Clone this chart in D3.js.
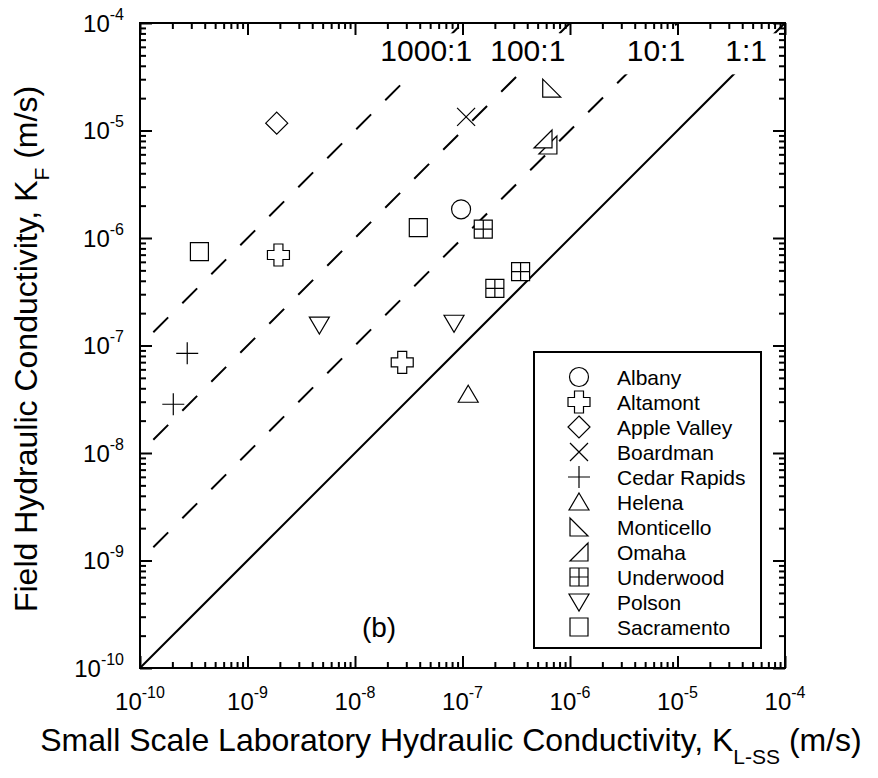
<!DOCTYPE html>
<html lang="en">
<head>
<meta charset="UTF-8">
<title>Field vs Small Scale Laboratory Hydraulic Conductivity</title>
<script src="https://d3js.org/d3.v7.min.js"></script>
<style>
  body { margin: 0; background: #fff; }
  svg text { font-family: "Liberation Sans", Arial, Helvetica, sans-serif; fill: #000; font-weight: normal; }
</style>
</head>
<body>
<svg width="878" height="778"></svg>
<script>
// sites shown in the legend, in legend order
const siteNames = ["Albany", "Altamont", "Apple Valley", "Boardman", "Cedar Rapids", "Helena",
                   "Monticello", "Omaha", "Underwood", "Polson", "Sacramento"];

// one entry per plotted point (m/s)
const pointSite = ["Albany", "Altamont", "Altamont", "Apple Valley", "Boardman",
                   "Cedar Rapids", "Cedar Rapids", "Helena", "Monticello", "Omaha", "Omaha",
                   "Underwood", "Underwood", "Underwood", "Polson", "Polson",
                   "Sacramento", "Sacramento"];
const labK   = [9.7e-8, 1.94e-9, 2.75e-8, 1.87e-9, 1.08e-7,
                2.75e-10, 2.04e-10, 1.13e-7, 6.76e-7, 6.23e-7, 5.61e-7,
                1.56e-7, 3.47e-7, 2.0e-7, 4.66e-9, 8.34e-8,
                3.57e-10, 3.88e-8];
const fieldK = [1.85e-6, 6.95e-7, 6.98e-8, 1.17e-5, 1.34e-5,
                8.45e-8, 2.84e-8, 3.52e-8, 2.48e-5, 7.33e-6, 8.34e-6,
                1.21e-6, 4.86e-7, 3.4e-7, 1.55e-7, 1.61e-7,
                7.46e-7, 1.25e-6];

// KF : KL-SS reference lines
const ratios      = [1, 10, 100, 1000];
const ratioLabels = ["1:1", "10:1", "100:1", "1000:1"];
const ratioStart  = [1e-10, 1.33e-10, 1.33e-10, 1.33e-10];
const ratioLabelX = [4.35e-5, 6.3e-6, 4.05e-7, 4.6e-8];
const ratioLabelY = 4.4e-5;

const decades = [-10, -9, -8, -7, -6, -5, -4];

const svg = d3.select("svg");
const x = d3.scaleLog().domain([1e-10, 1e-4]).range([140, 785]);
const y = d3.scaleLog().domain([1e-10, 1e-4]).range([668, 23]);

const majors = decades.map(d => +("1e" + d));
const minors = [];
decades.slice(0, -1).forEach(d => {
    for (let k = 2; k <= 9; k++) minors.push(+(k + "e" + d));
});

// reference lines
ratios.forEach((r, i) => {
    const x0 = ratioStart[i], x1 = 1e-4 / r;
    svg.append("line")
        .attr("x1", x(x0)).attr("y1", y(x0 * r))
        .attr("x2", x(x1)).attr("y2", y(1e-4))
        .attr("stroke", "black")
        .attr("stroke-width", 2)
        .attr("stroke-dasharray", r === 1 ? null : "21,20");
});

// ratio labels on a white strip
const labG = svg.append("g");
const labRect = labG.append("rect").attr("fill", "white");
ratioLabels.forEach((t, i) => {
    labG.append("text")
        .attr("x", x(ratioLabelX[i]))
        .attr("y", y(ratioLabelY))
        .attr("text-anchor", "middle")
        .attr("font-size", 30)
        .text(t);
});
const bb = labG.node().getBBox();
labRect.attr("x", bb.x - 6).attr("y", bb.y - 1)
    .attr("width", x(1e-4) - 3 - (bb.x - 6)).attr("height", bb.height + 8);

// axes with inward ticks
function ticks(gen, tr, vals, size) {
    const g = svg.append("g").attr("transform", tr)
        .call(gen.tickValues(vals).tickSize(-size).tickSizeOuter(0).tickFormat(""));
    g.select(".domain").remove();
    g.selectAll("line").attr("stroke-width", 2);
}
const axisGens = [
    [() => d3.axisBottom(x), "translate(0,668)"],
    [() => d3.axisTop(x), "translate(0,23)"],
    [() => d3.axisLeft(y), "translate(140,0)"],
    [() => d3.axisRight(y), "translate(785,0)"]
];
axisGens.forEach(([gen, tr]) => {
    ticks(gen(), tr, majors, 12);
    ticks(gen(), tr, minors, 6);
});

svg.append("rect")
    .attr("x", 140).attr("y", 23).attr("width", 645).attr("height", 645)
    .attr("fill", "none").attr("stroke", "black").attr("stroke-width", 2);

// tick labels
decades.forEach(d => {
    const v = +("1e" + d);
    const tx = svg.append("text")
        .attr("x", x(v)).attr("y", 710)
        .attr("text-anchor", "middle").attr("font-size", 24);
    tx.append("tspan").text("10");
    tx.append("tspan").attr("dy", -12).attr("font-size", 16).text(d);

    const ty = svg.append("text")
        .attr("x", 124).attr("y", y(v) + 8.5)
        .attr("text-anchor", "end").attr("font-size", 24);
    ty.append("tspan").text("10");
    ty.append("tspan").attr("dy", -12).attr("font-size", 16).text(d);
});

// axis titles
const xt = svg.append("text")
    .attr("x", 451).attr("y", 751)
    .attr("text-anchor", "middle").attr("font-size", 32);
xt.append("tspan").text("Small Scale Laboratory Hydraulic Conductivity, K");
xt.append("tspan").attr("dy", 13).attr("font-size", 21).text("L-SS");
xt.append("tspan").attr("dy", -13).text(" (m/s)");

const yt = svg.append("text")
    .attr("transform", "translate(37,349) rotate(-90)")
    .attr("text-anchor", "middle").attr("font-size", 32);
yt.append("tspan").text("Field Hydraulic Conductivity, K");
yt.append("tspan").attr("dy", 12).attr("font-size", 21).text("F");
yt.append("tspan").attr("dy", -12).text(" (m/s)");

// marker shapes
const shapes = {
    "Albany": "M9.5,0A9.5,9.5 0 1,1 -9.5,0A9.5,9.5 0 1,1 9.5,0Z",
    "Altamont": "M-4.5,-11H4.5V-4.5H11V4.5H4.5V11H-4.5V4.5H-11V-4.5H-4.5Z",
    "Apple Valley": "M0,-11L11,0L0,11L-11,0Z",
    "Boardman": "M-9,-9L9,9M-9,9L9,-9",
    "Cedar Rapids": "M-11,0H11M0,-11V11",
    "Helena": "M0,-9L10,8H-10Z",
    "Monticello": "M-9,-9V9H9Z",
    "Omaha": "M9,-9V9H-9Z",
    "Underwood": "M-9,-9H9V9H-9ZM0,-9V9M-9,0H9",
    "Polson": "M-10,-8H10L0,9Z",
    "Sacramento": "M-9,-9H9V9H-9Z"
};

svg.append("g").selectAll("path")
    .data(pointSite.map((s, i) => ({site: s, lab: labK[i], field: fieldK[i]})))
    .join("path")
    .attr("transform", d => `translate(${x(d.lab)},${y(d.field)})`)
    .attr("d", d => shapes[d.site])
    .attr("fill", "white")
    .attr("stroke", "black")
    .attr("stroke-width", 1.2);

// (b) panel tag
svg.append("text")
    .attr("x", 379).attr("y", 637)
    .attr("text-anchor", "middle").attr("font-size", 28)
    .text("(b)");

// legend
const leg = svg.append("g");
leg.append("rect")
    .attr("x", 534).attr("y", 352).attr("width", 227).attr("height", 296)
    .attr("fill", "white").attr("stroke", "black").attr("stroke-width", 2);
siteNames.forEach((s, i) => {
    const cy = 377 + i * 25;
    leg.append("path")
        .attr("transform", `translate(579,${cy})`)
        .attr("d", shapes[s])
        .attr("fill", "white").attr("stroke", "black").attr("stroke-width", 1.2);
    leg.append("text")
        .attr("x", 617).attr("y", cy + 7.5)
        .attr("font-size", 21)
        .text(s);
});
</script>
</body>
</html>
